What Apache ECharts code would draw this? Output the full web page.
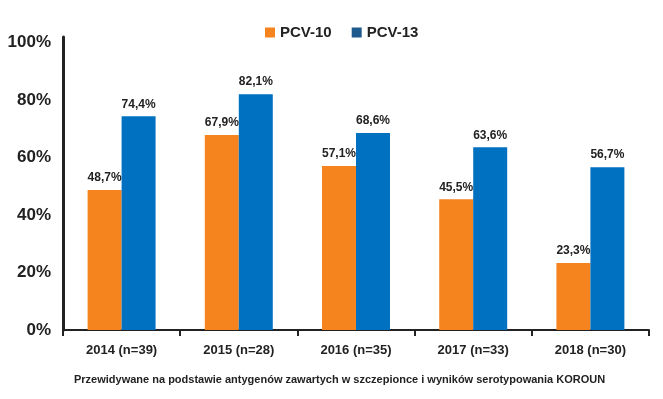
<!DOCTYPE html>
<html>
<head>
<meta charset="utf-8">
<script src="https://cdn.jsdelivr.net/npm/echarts@6/dist/echarts.min.js"></script>
<style>
html, body { margin: 0; padding: 0; background: #fff; }
#container { width: 663px; height: 399px; }
</style>
</head>
<body>
<div id="container"></div>
<script>
var categories = ['2014 (n=39)', '2015 (n=28)', '2016 (n=35)', '2017 (n=33)', '2018 (n=30)'];
var pcv10 = [48.7, 67.9, 57.1, 45.5, 23.3];
var pcv13 = [74.4, 82.1, 68.6, 63.6, 56.7];
var footnote = 'Przewidywane na podstawie antygenów zawartych w szczepionce i wyników serotypowania KOROUN';

var font = '"Liberation Sans", Arial, sans-serif';

function pct(p) {
    return p.value.toFixed(1).replace('.', ',') + '%';
}

var myChart = echarts.init(document.getElementById('container'));
myChart.setOption({
    animation: false,
    textStyle: { fontFamily: font },
    legend: {
        top: 20,
        left: 260,
        itemWidth: 10,
        itemHeight: 10,
        itemGap: 20,
        icon: 'rect',
        textStyle: { fontSize: 15, fontWeight: 'bold', color: '#222', fontFamily: font },
        data: [
            { name: 'PCV-10', itemStyle: { color: '#f5841f' } },
            { name: 'PCV-13', itemStyle: { color: '#1f5a8c' } }
        ]
    },
    grid: { left: 63, right: 14, top: 37, bottom: 69 },
    xAxis: {
        type: 'category',
        data: categories,
        axisLine: { lineStyle: { color: '#222', width: 2 } },
        axisTick: { show: true, length: 6, lineStyle: { color: '#222', width: 2 } },
        axisLabel: { fontSize: 13, fontWeight: 'bold', color: '#222', margin: 14, fontFamily: font }
    },
    yAxis: {
        type: 'value',
        min: 0,
        max: 102,
        interval: 20,
        splitLine: { show: false },
        axisLine: { show: true, lineStyle: { color: '#222', width: 3 } },
        axisTick: { show: false },
        axisLabel: {
            showMaxLabel: false,
            fontSize: 17, fontWeight: 'bold', color: '#222', margin: 12, fontFamily: font,
            formatter: function(v) { return v > 100 ? '' : v + '%'; }
        }
    },
    series: [{
            name: 'PCV-10',
            type: 'bar',
            data: pcv10,
            barGap: 0,
            barCategoryGap: '42%',
            itemStyle: { color: '#f5841f' },
            label: {
                show: true, position: 'top', distance: 6,
                fontSize: 12, fontWeight: 'bold', color: '#222', fontFamily: font,
                formatter: pct
            }
        }, {
            name: 'PCV-13',
            type: 'bar',
            data: pcv13,
            barGap: 0,
            barCategoryGap: '42%',
            itemStyle: { color: '#0070c0' },
            label: {
                show: true, position: 'top', distance: 6,
                fontSize: 12, fontWeight: 'bold', color: '#222', fontFamily: font,
                formatter: pct
            }
        }],
    graphic: [{
        type: 'text',
        left: 74,
        top: 374,
        style: {
            text: footnote,
            font: 'bold 11px ' + font,
            fill: '#222'
        }
    }]
});
</script>
</body>
</html>
